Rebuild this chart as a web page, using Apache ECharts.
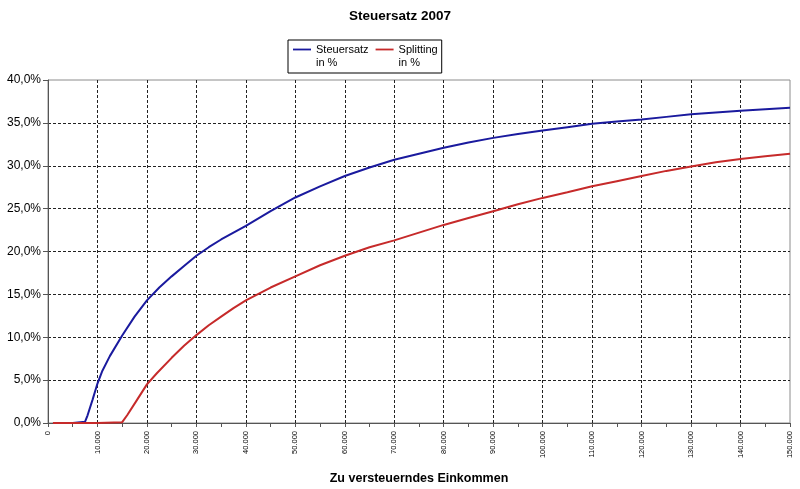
<!DOCTYPE html>
<html><head><meta charset="utf-8">
<script src="https://cdn.jsdelivr.net/npm/echarts@6/dist/echarts.min.js"></script>
<style>html,body{margin:0;padding:0;background:#fff}#c{width:800px;height:489px}</style>
</head><body><div id="c"></div>
<script>
const titleText = 'Steuersatz 2007';
const xAxisName = 'Zu versteuerndes Einkommen';
const seriesNames = ['Steuersatz\nin %', 'Splitting\nin %'];
const seriesColors = ['#1a1a9e', '#c62a2a'];

const incomeSingle = [1000, 5000, 7500, 8000, 9000, 10000, 11000, 12500, 15000, 17500, 20000, 22500, 25000, 27500, 30000, 32500, 35000, 37500, 40000, 45000, 50000, 55000, 60000, 65000, 70000, 75000, 80000, 85000, 90000, 95000, 100000, 105000, 110000, 115000, 120000, 125000, 130000, 135000, 140000, 145000, 150000];
const rateSingle = [0, 0, 0.15, 0.9, 2.7, 4.6, 6.1, 7.8, 10.2, 12.4, 14.3, 15.8, 17.1, 18.3, 19.5, 20.5, 21.4, 22.2, 23.0, 24.7, 26.3, 27.6, 28.8, 29.8, 30.7, 31.4, 32.1, 32.7, 33.25, 33.7, 34.1, 34.5, 34.9, 35.15, 35.4, 35.7, 36.0, 36.2, 36.4, 36.6, 36.75];

const incomeSplit = [1000, 10000, 15000, 16000, 18000, 20000, 22000, 25000, 27500, 30000, 32500, 35000, 37500, 40000, 45000, 50000, 55000, 60000, 65000, 70000, 75000, 80000, 85000, 90000, 95000, 100000, 105000, 110000, 115000, 120000, 125000, 130000, 135000, 140000, 145000, 150000];
const rateSplit = [0, 0, 0.1, 0.9, 2.7, 4.5, 5.8, 7.6, 9.0, 10.25, 11.4, 12.4, 13.4, 14.3, 15.8, 17.1, 18.4, 19.5, 20.5, 21.3, 22.2, 23.1, 23.9, 24.7, 25.5, 26.25, 26.9, 27.6, 28.2, 28.8, 29.4, 29.9, 30.4, 30.8, 31.1, 31.4];

const xMin = 0, xMax = 150000, xStep = 10000;
const yMin = 0, yMax = 40, yStep = 5;

function pairs(xs, ys) { return xs.map((x, i) => [x, ys[i]]); }
function fmtThousands(v) {
  if (v === 0) return '0';
  return String(v).replace(/\B(?=(\d{3})+(?!\d))/g, '.');
}
function fmtPct(v) { return v.toFixed(1).replace('.', ',') + '%'; }

const font = 'Arial, "Liberation Sans", sans-serif';
const legendIcon = 'path://M0,0 L0,0 M18,26 L18,26 M0,5.6 L18,5.6 L18,7.4 L0,7.4 Z';

const chart = echarts.init(document.getElementById('c'), null, {renderer: 'canvas'});
chart.setOption({
  backgroundColor: '#fff',
  animation: false,
  textStyle: {fontFamily: font},
  title: {
    text: titleText, left: 'center', top: 9, padding: 0,
    textStyle: {fontFamily: font, fontSize: 13.5, fontWeight: 'bold', color: '#000'}
  },
  legend: {
    left: 288, top: 40, orient: 'horizontal',
    padding: [3, 4, 4, 5], itemGap: 7, itemWidth: 18, itemHeight: 26,
    borderColor: '#000', borderWidth: 1,
    icon: legendIcon,
    itemStyle: {borderWidth: 0},
    textStyle: {fontFamily: font, fontSize: 11, lineHeight: 13, color: '#000'},
    data: seriesNames
  },
  grid: {
    left: 48, right: 10, top: 80, bottom: 66,
    show: true, borderColor: '#8c8c8c', borderWidth: 1, backgroundColor: 'transparent',
    outerBoundsMode: 'none', containLabel: false
  },
  xAxis: {
    type: 'value', min: xMin, max: xMax, interval: xStep,
    name: xAxisName, nameLocation: 'middle', nameGap: 49,
    nameTextStyle: {fontFamily: font, fontSize: 12.5, fontWeight: 'bold', color: '#000'},
    axisLine: {show: true, onZero: false, lineStyle: {color: '#555', width: 1}},
    axisTick: {show: true, length: 4, lineStyle: {color: '#555'}},
    minorTick: {show: true, splitNumber: 2, length: 4, lineStyle: {color: '#555'}},
    axisLabel: {rotate: 90, fontSize: 7.5, color: '#000', margin: 8, fontFamily: font, formatter: fmtThousands},
    splitLine: {show: true, showMinLine: false, showMaxLine: false, lineStyle: {color: '#222', type: [3, 2], width: 1}}
  },
  yAxis: {
    type: 'value', min: yMin, max: yMax, interval: yStep,
    axisLine: {show: true, lineStyle: {color: '#555', width: 1}},
    axisTick: {show: true, length: 5, lineStyle: {color: '#555'}},
    axisLabel: {fontSize: 12, color: '#000', margin: 7, fontFamily: font, formatter: fmtPct},
    splitLine: {show: true, showMinLine: false, showMaxLine: false, lineStyle: {color: '#222', type: [3, 2], width: 1}}
  },
  series: [
    {
      name: seriesNames[0], type: 'line', data: pairs(incomeSingle, rateSingle),
      showSymbol: false, symbol: 'none', color: seriesColors[0],
      itemStyle: {color: seriesColors[0]},
      lineStyle: {color: seriesColors[0], width: 2}, z: 3
    },
    {
      name: seriesNames[1], type: 'line', data: pairs(incomeSplit, rateSplit),
      showSymbol: false, symbol: 'none', color: seriesColors[1],
      itemStyle: {color: seriesColors[1]},
      lineStyle: {color: seriesColors[1], width: 2}, z: 4
    }
  ]
});
</script>
</body></html>
